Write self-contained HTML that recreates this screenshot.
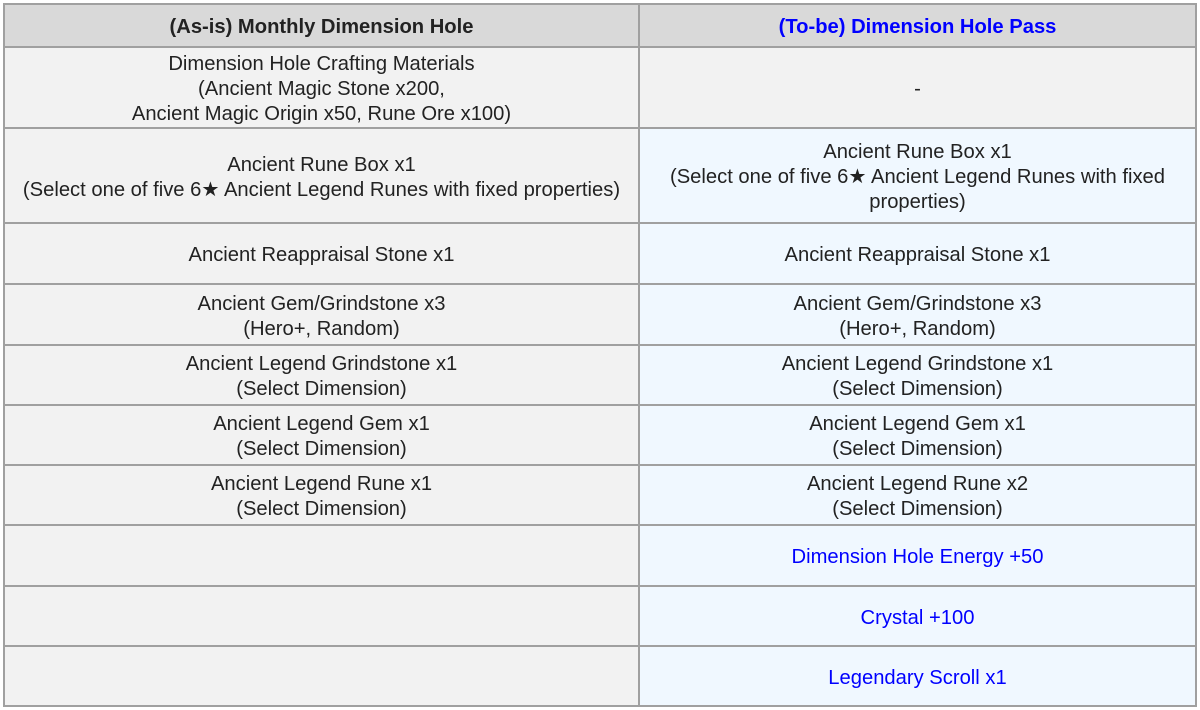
<!DOCTYPE html>
<html>
<head>
<meta charset="utf-8">
<style>
  html, body { margin:0; padding:0; background:#fff; }
  body { width:1200px; height:710px; position:relative; overflow:hidden;
         font-family:"Liberation Sans", "DejaVu Sans", sans-serif; font-size:20.2px; color:#222; }
  .c { position:absolute; display:flex; align-items:center; justify-content:center;
       text-align:center; line-height:25px; box-sizing:border-box; padding:4px 8px 0 8px; }
  .h { background:#d9d9d9; font-weight:bold; }
  .g { background:#f2f2f2; }
  .b { background:#f0f8ff; }
  .blue { color:#0000ff; }
  .hl { position:absolute; left:3px; width:1194px; height:2px; background:#a0a0a0; }
  .vl { position:absolute; top:3px; height:704px; width:2px; background:#a0a0a0; }
</style>
</head>
<body>
  <!-- header -->
  <div class="c h" style="left:4px;top:4px;width:635px;height:43px;">(As-is) Monthly Dimension Hole</div>
  <div class="c h blue" style="left:639px;top:4px;width:557px;height:43px;">(To-be) Dimension Hole Pass</div>

  <!-- row 1 -->
  <div class="c g" style="left:4px;top:47px;width:635px;height:81px;">Dimension Hole Crafting Materials<br>(Ancient Magic Stone x200,<br>Ancient Magic Origin x50, Rune Ore x100)</div>
  <div class="c g" style="left:639px;top:47px;width:557px;height:81px;">-</div>

  <!-- row 2 -->
  <div class="c g" style="left:4px;top:128px;width:635px;height:95px;">Ancient Rune Box x1<br>(Select one of five 6★ Ancient Legend Runes with fixed properties)</div>
  <div class="c b" style="left:639px;top:128px;width:557px;height:95px;padding:4px 20px 0 20px;">Ancient Rune Box x1<br>(Select one of five 6★ Ancient Legend Runes with fixed properties)</div>

  <!-- row 3 -->
  <div class="c g" style="left:4px;top:223px;width:635px;height:61px;">Ancient Reappraisal Stone x1</div>
  <div class="c b" style="left:639px;top:223px;width:557px;height:61px;">Ancient Reappraisal Stone x1</div>

  <!-- row 4 -->
  <div class="c g" style="left:4px;top:284px;width:635px;height:61px;">Ancient Gem/Grindstone x3<br>(Hero+, Random)</div>
  <div class="c b" style="left:639px;top:284px;width:557px;height:61px;">Ancient Gem/Grindstone x3<br>(Hero+, Random)</div>

  <!-- row 5 -->
  <div class="c g" style="left:4px;top:345px;width:635px;height:60px;">Ancient Legend Grindstone x1<br>(Select Dimension)</div>
  <div class="c b" style="left:639px;top:345px;width:557px;height:60px;">Ancient Legend Grindstone x1<br>(Select Dimension)</div>

  <!-- row 6 -->
  <div class="c g" style="left:4px;top:405px;width:635px;height:60px;">Ancient Legend Gem x1<br>(Select Dimension)</div>
  <div class="c b" style="left:639px;top:405px;width:557px;height:60px;">Ancient Legend Gem x1<br>(Select Dimension)</div>

  <!-- row 7 -->
  <div class="c g" style="left:4px;top:465px;width:635px;height:60px;">Ancient Legend Rune x1<br>(Select Dimension)</div>
  <div class="c b" style="left:639px;top:465px;width:557px;height:60px;">Ancient Legend Rune x2<br>(Select Dimension)</div>

  <!-- row 8 -->
  <div class="c g" style="left:4px;top:525px;width:635px;height:61px;"></div>
  <div class="c b blue" style="left:639px;top:525px;width:557px;height:61px;">Dimension Hole Energy +50</div>

  <!-- row 9 -->
  <div class="c g" style="left:4px;top:586px;width:635px;height:60px;"></div>
  <div class="c b blue" style="left:639px;top:586px;width:557px;height:60px;">Crystal +100</div>

  <!-- row 10 -->
  <div class="c g" style="left:4px;top:646px;width:635px;height:60px;"></div>
  <div class="c b blue" style="left:639px;top:646px;width:557px;height:60px;">Legendary Scroll x1</div>

  <!-- grid lines -->
  <div class="hl" style="top:3px;"></div>
  <div class="hl" style="top:46px;"></div>
  <div class="hl" style="top:127px;"></div>
  <div class="hl" style="top:222px;"></div>
  <div class="hl" style="top:283px;"></div>
  <div class="hl" style="top:344px;"></div>
  <div class="hl" style="top:404px;"></div>
  <div class="hl" style="top:464px;"></div>
  <div class="hl" style="top:524px;"></div>
  <div class="hl" style="top:585px;"></div>
  <div class="hl" style="top:645px;"></div>
  <div class="hl" style="top:705px;"></div>
  <div class="vl" style="left:3px;"></div>
  <div class="vl" style="left:638px;"></div>
  <div class="vl" style="left:1195px;"></div>
</body>
</html>
